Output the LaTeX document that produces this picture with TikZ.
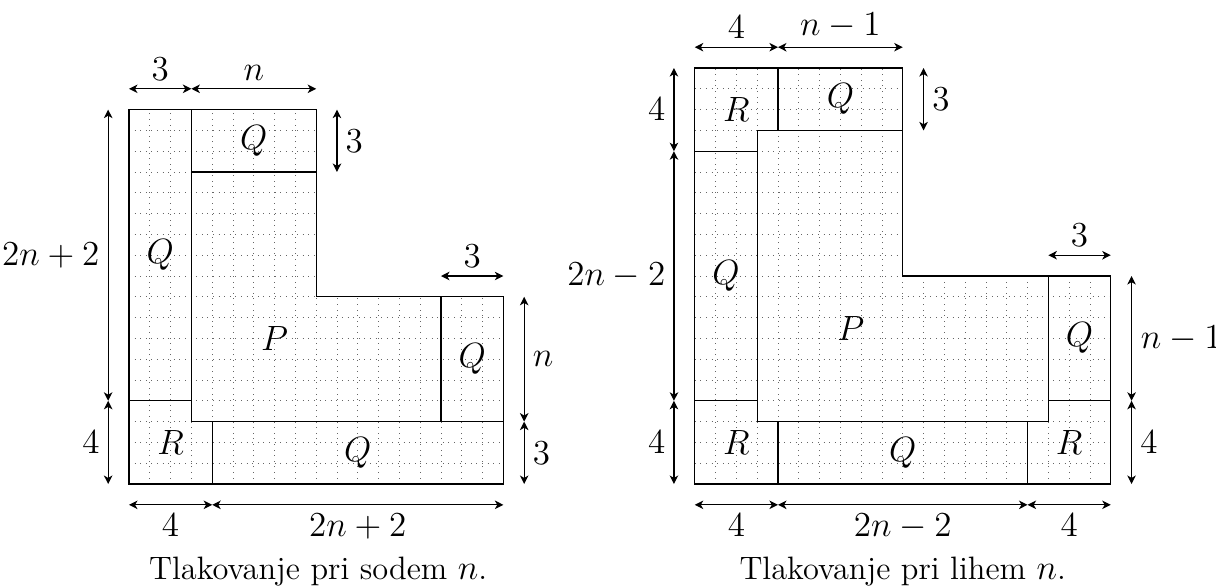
\documentclass[tikz,border=0pt]{standalone}
\usetikzlibrary{arrows.meta}
\begin{document}
\begin{tikzpicture}[x=0.3cm,y=0.3cm,
  every node/.style={font=\fontsize{13.3}{16}\selectfont},
  tile/.style={line width=0.5pt},
  gridl/.style={dotted, line width=0.3pt, black!60},
  dim/.style={{Stealth[length=3.5pt,width=3.5pt,inset=1pt]}-{Stealth[length=3.5pt,width=3.5pt,inset=1pt]}, line width=0.5pt},
  captext/.style={anchor=base}]
\useasboundingbox (-6.20,-4.95) rectangle (52.26,23.27);

% ---------------- left figure: n even ----------------
\begin{scope}
  \begin{scope}
    \clip (0,0) -- (18,0) -- (18,9) -- (9,9) -- (9,18) -- (0,18) -- cycle;
    \draw[gridl,step=0.3cm] (0,0) grid (18,18);
  \end{scope}
  \draw[tile] (0,0) -- (18,0) -- (18,9) -- (9,9) -- (9,18) -- (0,18) -- cycle;
  \draw[tile] (3,18) -- (3,3) -- (18,3);
  \draw[tile] (0,4) -- (3,4);
  \draw[tile] (4,0) -- (4,3);
  \draw[tile] (3,15) -- (9,15);
  \draw[tile] (15,3) -- (15,9);

  \node (lQa) at (1.5,11) {$Q$};
  \node (lQb) at (6,16.5) {$Q$};
  \node (lP)  at (7,7) {$P$};
  \node (lQc) at (16.5,6) {$Q$};
  \node (lQd) at (11,1.5) {$Q$};
  \node (lR)  at (2,2) {$R$};

  \coordinate (lt0) at (0,19); \coordinate (lt1) at (3,19); \coordinate (lt2) at (9,19);
  \draw[dim] (lt0) -- node[above] {$3$} (lt1);
  \draw[dim] (lt1) -- node[above] {$n$} (lt2);

  \coordinate (lq0) at (10,15); \coordinate (lq1) at (10,18);
  \draw[dim] (lq0) -- node[right] {$3$} (lq1);

  \coordinate (ll0) at (-1,0); \coordinate (ll1) at (-1,4); \coordinate (ll2) at (-1,18);
  \draw[dim] (ll0) -- node[left] {$4$} (ll1);
  \draw[dim] (ll1) -- node[left] {$2n+2$} (ll2);

  \coordinate (lr0) at (15,10); \coordinate (lr1) at (18,10);
  \draw[dim] (lr0) -- node[above] {$3$} (lr1);

  \coordinate (lv0) at (19,0); \coordinate (lv1) at (19,3); \coordinate (lv2) at (19,9);
  \draw[dim] (lv0) -- node[right] {$3$} (lv1);
  \draw[dim] (lv1) -- node[right] {$n$} (lv2);

  \coordinate (lb0) at (0,-1); \coordinate (lb1) at (4,-1); \coordinate (lb2) at (18,-1);
  \draw[dim] (lb0) -- node[below] {$4$} (lb1);
  \draw[dim] (lb1) -- node[below] {$2n+2$} (lb2);

  \node[captext] (lcap) at (9.1,-4.57) {Tlakovanje pri sodem $n$.};
\end{scope}

% ---------------- right figure: n odd ----------------
\begin{scope}[shift={(27.2,0)}]
  \begin{scope}
    \clip (0,0) -- (20,0) -- (20,10) -- (10,10) -- (10,20) -- (0,20) -- cycle;
    \draw[gridl,step=0.3cm] (0,0) grid (20,20);
  \end{scope}
  \draw[tile] (0,0) -- (20,0) -- (20,10) -- (10,10) -- (10,20) -- (0,20) -- cycle;
  \draw[tile] (0,16) -- (3,16) -- (3,17) -- (10,17);
  \draw[tile] (3,16) -- (3,3) -- (17,3) -- (17,10);
  \draw[tile] (4,20) -- (4,17);
  \draw[tile] (0,4) -- (3,4);
  \draw[tile] (4,0) -- (4,3);
  \draw[tile] (16,0) -- (16,3);
  \draw[tile] (17,4) -- (20,4);

  \node (rRa) at (2,18) {$R$};
  \node (rQa) at (7,18.5) {$Q$};
  \node (rQb) at (1.5,10) {$Q$};
  \node (rP)  at (7.5,7.5) {$P$};
  \node (rQc) at (18.5,7) {$Q$};
  \node (rQd) at (10,1.5) {$Q$};
  \node (rRb) at (2,2) {$R$};
  \node (rRc) at (18,2) {$R$};

  \coordinate (rt0) at (0,21); \coordinate (rt1) at (4,21); \coordinate (rt2) at (10,21);
  \draw[dim] (rt0) -- node[above] {$4$} (rt1);
  \draw[dim] (rt1) -- node[above] {$n-1$} (rt2);

  \coordinate (rq0) at (11,17); \coordinate (rq1) at (11,20);
  \draw[dim] (rq0) -- node[right] {$3$} (rq1);

  \coordinate (rl0) at (-1,0); \coordinate (rl1) at (-1,4); \coordinate (rl2) at (-1,16); \coordinate (rl3) at (-1,20);
  \draw[dim] (rl0) -- node[left] {$4$} (rl1);
  \draw[dim] (rl1) -- node[left] {$2n-2$} (rl2);
  \draw[dim] (rl2) -- node[left] {$4$} (rl3);

  \coordinate (rr0) at (17,11); \coordinate (rr1) at (20,11);
  \draw[dim] (rr0) -- node[above] {$3$} (rr1);

  \coordinate (rv0) at (21,0); \coordinate (rv1) at (21,4); \coordinate (rv2) at (21,10);
  \draw[dim] (rv0) -- node[right] {$4$} (rv1);
  \draw[dim] (rv1) -- node[right, inner sep=0pt, xshift=3.6pt] {$n-1$} (rv2);

  \coordinate (rb0) at (0,-1); \coordinate (rb1) at (4,-1); \coordinate (rb2) at (16,-1); \coordinate (rb3) at (20,-1);
  \draw[dim] (rb0) -- node[below] {$4$} (rb1);
  \draw[dim] (rb1) -- node[below] {$2n-2$} (rb2);
  \draw[dim] (rb2) -- node[below] {$4$} (rb3);

  \node[captext] (rcap) at (10,-4.57) {Tlakovanje pri lihem $n$.};
\end{scope}
\end{tikzpicture}
\end{document}
